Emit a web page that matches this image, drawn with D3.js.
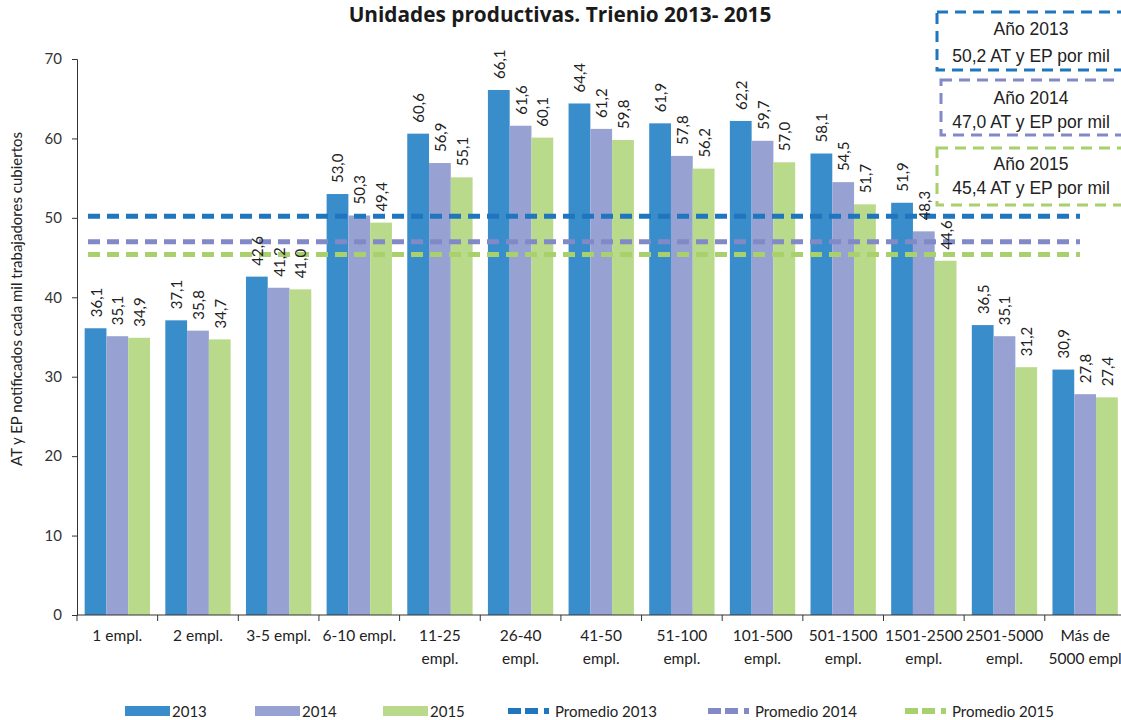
<!DOCTYPE html>
<html><head><meta charset="utf-8">
<script src="https://cdn.jsdelivr.net/npm/d3@7"></script>
<style>body{margin:0;background:#fff}svg{display:block}</style>
</head><body><svg id="c" width="1121" height="720"></svg>
<script>
const categories = ["1 empl.","2 empl.","3-5 empl.","6-10 empl.","11-25 empl.","26-40 empl.","41-50 empl.","51-100 empl.","101-500 empl.","501-1500 empl.","1501-2500 empl.","2501-5000 empl.","Más de 5000 empl"];
const categoryLines = [["1 empl."],["2 empl."],["3-5 empl."],["6-10 empl."],["11-25","empl."],["26-40","empl."],["41-50","empl."],["51-100","empl."],["101-500","empl."],["501-1500","empl."],["1501-2500","empl."],["2501-5000","empl."],["Más de","5000 empl"]];
const years = ["2013","2014","2015"];
const values2013 = [36.1,37.1,42.6,53.0,60.6,66.1,64.4,61.9,62.2,58.1,51.9,36.5,30.9];
const values2014 = [35.1,35.8,41.2,50.3,56.9,61.6,61.2,57.8,59.7,54.5,48.3,35.1,27.8];
const values2015 = [34.9,34.7,41.0,49.4,55.1,60.1,59.8,56.2,57.0,51.7,44.6,31.2,27.4];
const averages = [50.2,47.0,45.4];
const yTicks = [0,10,20,30,40,50,60,70];
const barColors = ["#3a8dcb","#98a2d2","#b9d98b"];
const avgColors = ["#1f76be","#8189c6","#a8d06c"];

const series = [values2013, values2014, values2015];
const svg = d3.select("#c");
const fmt = v => v.toFixed(1).replace(".", ",");
const X0 = 77, STEP = 80.65;

const x = d3.scaleBand().domain(categories).range([X0, X0 + 13*STEP]).paddingInner(0.19).paddingOuter(0.095);
const xs = d3.scaleBand().domain(years).range([0, x.bandwidth()]);
const y = d3.scaleLinear().domain([0,70]).range([615, 59]);
const step = x.step();

// Title
svg.append("text").attr("x",560).attr("y",22).attr("text-anchor","middle")
  .attr("font-family","Open Sans").attr("font-weight","bold").attr("font-size",20.8).attr("fill","#1a1a1a")
  .text("Unidades productivas. Trienio 2013- 2015");

// Bars
years.forEach((yr,si)=>{
  svg.append("g").selectAll("rect").data(categories).join("rect")
    .attr("x", c => x(c) + xs(yr))
    .attr("y", (c,i) => y(series[si][i]))
    .attr("width", xs.bandwidth())
    .attr("height", (c,i) => y(0) - y(series[si][i]))
    .attr("fill", barColors[si]);
});

// Average lines
averages.forEach((a,i)=>{
  svg.append("line").attr("x1",88).attr("x2",1080).attr("y1",y(a)).attr("y2",y(a))
    .attr("stroke",avgColors[i]).attr("stroke-width",5).attr("stroke-dasharray","12,7");
});

// Value labels
years.forEach((yr,si)=>{
  svg.append("g").selectAll("text").data(categories).join("text")
    .attr("transform",(c,i)=>`translate(${x(c)+xs(yr)+xs.bandwidth()/2+6},${y(series[si][i])-11}) rotate(-90)`)
    .attr("font-family","Lato").attr("font-size",15).attr("fill","#222")
    .text((c,i)=>fmt(series[si][i]));
});

// Y axis
const ya = svg.append("g").attr("transform",`translate(${X0},0)`)
  .call(d3.axisLeft(y).tickValues(yTicks).tickSize(5).tickPadding(10));
ya.selectAll("text").attr("font-family","Lato").attr("font-size",15).attr("fill","#333");
ya.select(".domain").attr("stroke","#333");
ya.selectAll(".tick line").attr("stroke","#333");

// X axis
const xa = svg.append("g").attr("transform","translate(0,615)")
  .call(d3.axisBottom(x).tickSize(0).tickFormat(""));
xa.select(".domain").attr("d", `M${X0},0H${X0+13*STEP}`).attr("stroke","#333");
svg.append("g").selectAll("line").data(d3.range(14)).join("line")
  .attr("x1",i=>X0+i*step).attr("x2",i=>X0+i*step).attr("y1",615).attr("y2",621).attr("stroke","#333");
const xl = svg.append("g").selectAll("text").data(categories).join("text")
  .attr("x", c => x(c) + x.bandwidth()/2).attr("y", 641)
  .attr("text-anchor","middle").attr("font-family","Lato").attr("font-size",15.5).attr("fill","#222");
xl.each(function(c,i){
  d3.select(this).selectAll("tspan").data(categoryLines[i]).join("tspan")
    .attr("x", x(c)+x.bandwidth()/2).attr("dy",(d,j)=>j===0?0:23).text(d=>d);
});

// Y axis title
svg.append("text").attr("transform","translate(22,299) rotate(-90)").attr("text-anchor","middle")
  .attr("font-family","Lato").attr("font-size",15).attr("fill","#222")
  .text("AT y EP notificados cada mil trabajadores cubiertos");

// Annotation boxes
const boxes = [
  {x:937,y:12,h:58,t1:"Año 2013",t2:"50,2 AT y EP por mil",y1:35,y2:62},
  {x:941,y:80,h:55,t1:"Año 2014",t2:"47,0 AT y EP por mil",y1:104,y2:128},
  {x:937,y:148,h:57,t1:"Año 2015",t2:"45,4 AT y EP por mil",y1:170,y2:194}
];
boxes.forEach((b,i)=>{
  svg.append("rect").attr("x",b.x).attr("y",b.y).attr("width",200).attr("height",b.h)
    .attr("fill","#fff").attr("stroke",avgColors[i]).attr("stroke-width",3).attr("stroke-dasharray","11,7");
  svg.append("text").attr("x",1031).attr("y",b.y1).attr("text-anchor","middle")
    .attr("font-family","Liberation Sans").attr("font-size",17.5).attr("fill","#222").text(b.t1);
  svg.append("text").attr("x",1031).attr("y",b.y2).attr("text-anchor","middle")
    .attr("font-family","Liberation Sans").attr("font-size",17.5).attr("fill","#222").text(b.t2);
});

// Legend
const legY = 711;
const legBars = [125,255,383];
years.forEach((yr,i)=>{
  svg.append("rect").attr("x",legBars[i]).attr("y",legY-5).attr("width",45).attr("height",10).attr("fill",barColors[i]);
  svg.append("text").attr("x",legBars[i]+47).attr("y",legY+6).attr("font-family","Lato").attr("font-size",15).attr("fill","#222").text(yr);
});
const legLines = [508,708,905];
years.forEach((yr,i)=>{
  svg.append("line").attr("x1",legLines[i]).attr("x2",legLines[i]+44).attr("y1",legY).attr("y2",legY)
    .attr("stroke",avgColors[i]).attr("stroke-width",6).attr("stroke-dasharray","13,4,13,6,5,40");
  svg.append("text").attr("x",legLines[i]+47).attr("y",legY+6).attr("font-family","Lato").attr("font-size",15).attr("fill","#222").text("Promedio "+yr);
});
</script></body></html>
